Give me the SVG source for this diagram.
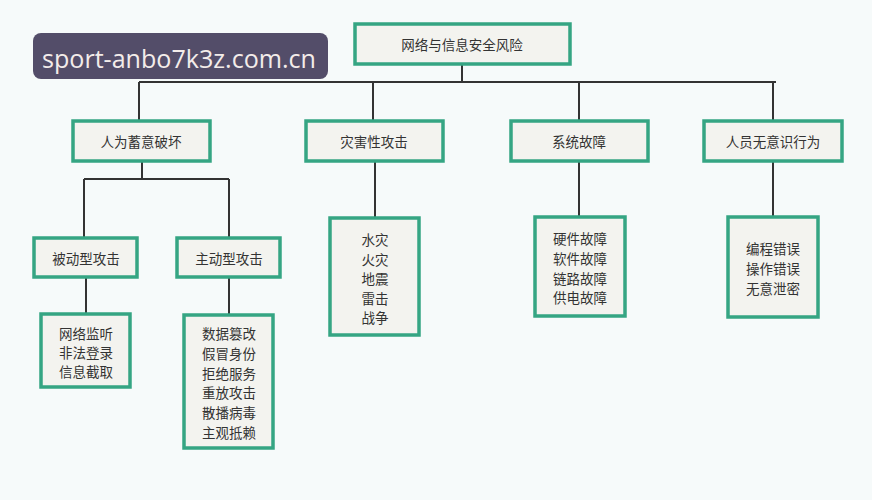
<svg xmlns="http://www.w3.org/2000/svg" width="872" height="500" viewBox="0 0 872 500">
<style>
.bg{fill:#f6fafa}
.box{fill:#f3f3ef;stroke:#35a583;stroke-width:3.5}
.t{font-family:"Noto Sans CJK SC","Noto Sans",sans-serif;font-size:13.5px;fill:#333;text-anchor:middle;dominant-baseline:central}
.ln{stroke:#333;stroke-width:2;fill:none}
.wm{fill:#534d69}
.wt{font-family:"Open Sans","Noto Sans",sans-serif;font-size:25px;fill:#f3ecea}
</style>
<rect class="bg" x="0" y="0" width="872" height="500"/>
<g id="connectors">
<path class="ln" d="M462 64V82M139 82H776M139 82V121M373 82V121M579 82V121M773 82V121"/>
<path class="ln" d="M142 161V179M84 179H229M84 179V238M229 179V238M86 277V314M229 277V315"/>
<path class="ln" d="M375 161V218M579 161V217M773 161V217"/>
</g>
<g id="root"><rect class="box" x="355" y="24" width="215" height="40"/><text class="t" x="462" y="44">网络与信息安全风险</text></g>
<g id="n1"><rect class="box" x="73" y="121" width="137" height="40"/><text class="t" x="141" y="141">人为蓄意破坏</text></g>
<g id="n2"><rect class="box" x="306" y="121" width="137" height="40"/><text class="t" x="374" y="141">灾害性攻击</text></g>
<g id="n3"><rect class="box" x="511" y="121" width="137" height="40"/><text class="t" x="579" y="141">系统故障</text></g>
<g id="n4"><rect class="box" x="704" y="121" width="138" height="40"/><text class="t" x="773" y="141">人员无意识行为</text></g>
<g id="n11"><rect class="box" x="34" y="238" width="103" height="39"/><text class="t" x="86" y="258">被动型攻击</text></g>
<g id="n12"><rect class="box" x="177" y="238" width="103" height="39"/><text class="t" x="229" y="258">主动型攻击</text></g>
<g id="n111"><rect class="box" x="41" y="314" width="89" height="73"/><text class="t" x="86" y="333">网络监听</text><text class="t" x="86" y="352">非法登录</text><text class="t" x="86" y="371">信息截取</text></g>
<g id="n121"><rect class="box" x="184" y="315" width="89" height="133"/><text class="t" x="229" y="333">数据篡改</text><text class="t" x="229" y="353">假冒身份</text><text class="t" x="229" y="373">拒绝服务</text><text class="t" x="229" y="392">重放攻击</text><text class="t" x="229" y="412">散播病毒</text><text class="t" x="229" y="432">主观抵赖</text></g>
<g id="n21"><rect class="box" x="330" y="218" width="89" height="117"/><text class="t" x="375" y="239">水灾</text><text class="t" x="375" y="259">火灾</text><text class="t" x="375" y="278">地震</text><text class="t" x="375" y="298">雷击</text><text class="t" x="375" y="317">战争</text></g>
<g id="n31"><rect class="box" x="535" y="217" width="90" height="99"/><text class="t" x="580" y="238">硬件故障</text><text class="t" x="580" y="258">软件故障</text><text class="t" x="580" y="278">链路故障</text><text class="t" x="580" y="297">供电故障</text></g>
<g id="n41"><rect class="box" x="728" y="217" width="90" height="100"/><text class="t" x="773" y="248">编程错误</text><text class="t" x="773" y="268">操作错误</text><text class="t" x="773" y="288">无意泄密</text></g>
<g id="watermark"><rect class="wm" x="33" y="33" width="295" height="46" rx="8"/><text class="wt" x="42" y="68" textLength="274" lengthAdjust="spacingAndGlyphs">sport-anbo7k3z.com.cn</text></g>
</svg>
